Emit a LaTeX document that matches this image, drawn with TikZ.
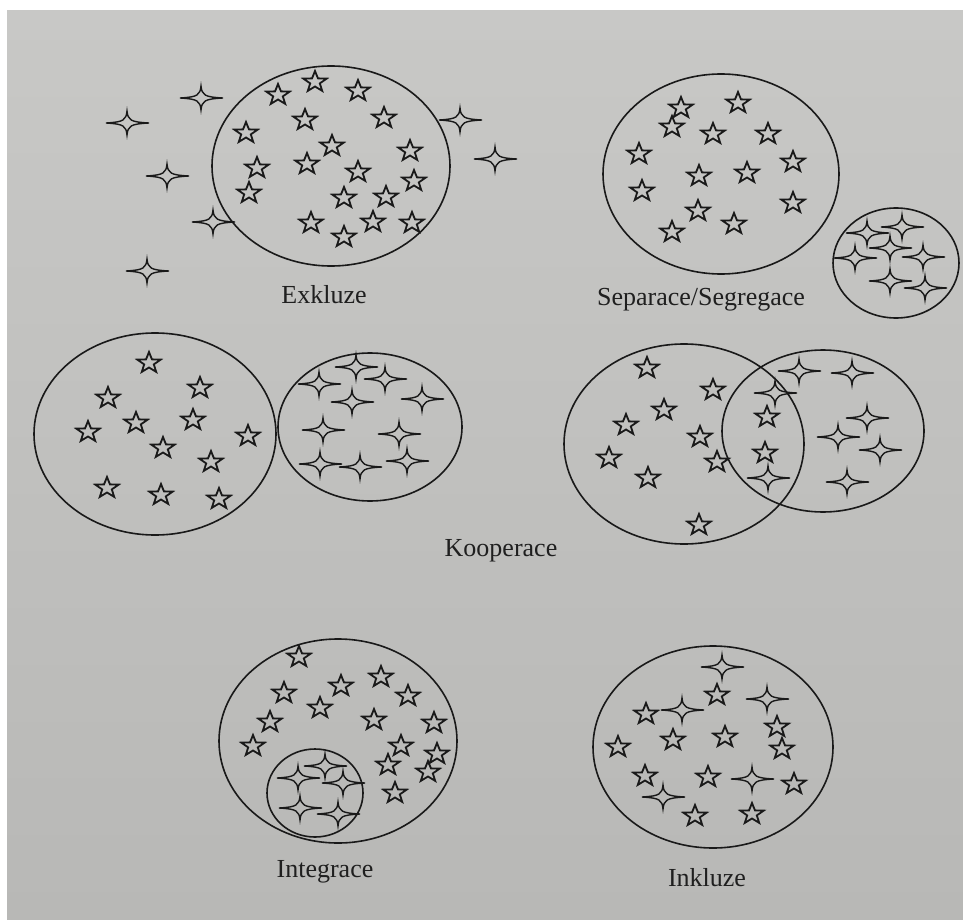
\documentclass[tikz,border=0pt]{standalone}
\usepackage{fontspec}
\setmainfont{Liberation Serif}
\begin{document}
\begin{tikzpicture}[x=1pt,y=-1pt,
  ink/.style={draw=black!90, line width=1.6pt},
  starline/.style={draw=black!90, line width=1.8pt, line join=miter},
  sparkline/.style={draw=black!90, line width=1.4pt},
  lbl/.style={font=\fontsize{26}{30}\selectfont, text=black!88, inner sep=0pt},
  fivestar/.pic={\draw[starline,xscale=1.12]
      (-90:11) -- (-54:4.5) -- (-18:11) -- (18:4.5) -- (54:11) -- (90:4.5)
      -- (126:11) -- (162:4.5) -- (198:11) -- (234:4.5) -- cycle;},
  sparkle/.pic={\draw[sparkline]
      (-21,0) .. controls (-3,-1) and (-1,-3) .. (0,-12)
      .. controls (1,-3) and (3,-1) .. (22,0)
      .. controls (3,1) and (1,3) .. (0,12)
      .. controls (-1,3) and (-3,1) .. (-21,0) -- cycle;}
]
% paper
\useasboundingbox (0,0) rectangle (963,920);
\fill[white] (0,0) rectangle (963,920);
\shade[top color={rgb,255:red,200;green,200;blue,198}, bottom color={rgb,255:red,184;green,184;blue,182}]
  (7,11) rectangle (963,920);

% ---------- Exkluze ----------
\draw[ink] (331,166) ellipse [x radius=119, y radius=100];
\foreach \x/\y in {315/82,278/95,358/91,305/120,384/118,246/133,332/146,410/151,
  257/168,307/164,358/172,414/181,249/193,344/198,386/197,311/223,373/222,412/223,344/237}
  \pic at (\x,\y) {fivestar};
\foreach \x/\y in {201/98,127/123,167/176,213/222,147/271,460/120,495/159}
  \pic at (\x,\y) {sparkle};
\node[lbl] (exkluze) at (324,295) {Exkluze};

% ---------- Separace/Segregace ----------
\draw[ink] (721,174) ellipse [x radius=118, y radius=100];
\draw[ink] (896,263) ellipse [x radius=63, y radius=55];
\foreach \x/\y in {681/108,738/103,672/127,713/134,768/134,639/154,793/162,699/176,
  747/173,642/191,698/211,793/203,734/224,672/232}
  \pic at (\x,\y) {fivestar};
\foreach \x/\y in {867/233,902/227,890/248,923/257,855/258,890/281,925/288}
  \pic at (\x,\y) {sparkle};
\node[lbl] (separace) at (701,300) {Separace/Segregace};

% ---------- Kooperace (two touching groups) ----------
\draw[ink] (155,434) ellipse [x radius=121, y radius=101];
\draw[ink] (370,427) ellipse [x radius=92, y radius=74];
\foreach \x/\y in {149/363,108/398,200/388,88/432,136/423,193/420,248/436,163/448,
  211/462,107/488,161/495,219/499}
  \pic at (\x,\y) {fivestar};
\foreach \x/\y in {356/367,319/384,385/379,352/402,422/399,323/430,399/434,320/464,
  360/467,407/461}
  \pic at (\x,\y) {sparkle};

% ---------- Kooperace (overlapping groups) ----------
\draw[ink] (684,444) ellipse [x radius=120, y radius=100];
\draw[ink] (823,431) ellipse [x radius=101, y radius=81];
\foreach \x/\y in {647/368,713/390,664/410,626/425,700/437,609/458,717/462,648/478,
  699/525,767/417,765/453}
  \pic at (\x,\y) {fivestar};
\foreach \x/\y in {799/371,852/373,775/393,867/418,838/437,880/450,768/478,847/482}
  \pic at (\x,\y) {sparkle};
\node[lbl] (kooperace) at (501,551) {Kooperace};

% ---------- Integrace ----------
\draw[ink] (338,741) ellipse [x radius=119, y radius=102];
\draw[ink] (315,793) ellipse [x radius=48, y radius=44];
\foreach \x/\y in {299/657,284/693,341/686,381/677,408/696,320/708,270/722,374/720,
  434/723,253/746,401/746,437/754,388/765,428/772,395/793}
  \pic at (\x,\y) {fivestar};
\foreach \x/\y in {325/766,298/778,343/783,300/808,338/814}
  \pic at (\x,\y) {sparkle};
\node[lbl] (integrace) at (325,872) {Integrace};

% ---------- Inkluze ----------
\draw[ink] (713,747) ellipse [x radius=120, y radius=101];
\foreach \x/\y in {717/695,646/714,777/727,673/740,725/737,618/747,782/749,645/776,
  708/777,794/784,695/816,752/814}
  \pic at (\x,\y) {fivestar};
\foreach \x/\y in {722/667,767/699,682/710,752/779,663/797}
  \pic at (\x,\y) {sparkle};
\node[lbl] (inkluze) at (707,878) {Inkluze};
\end{tikzpicture}
\end{document}
